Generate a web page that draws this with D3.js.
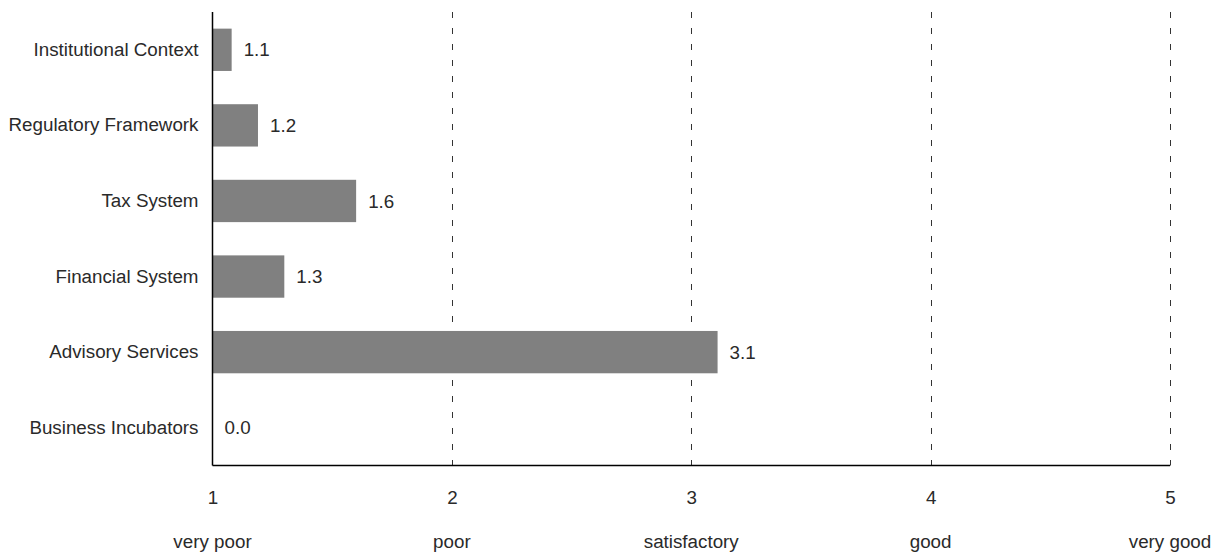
<!DOCTYPE html>
<html><head><meta charset="utf-8">
<script src="https://cdn.jsdelivr.net/npm/d3@7"></script>
<style>body{margin:0;background:#fff;} text{font-family:"Liberation Sans",Arial,Helvetica,sans-serif;}</style>
</head><body>
<svg id="c" width="1219" height="554"></svg>
<script>
const categories = ["Institutional Context","Regulatory Framework","Tax System","Financial System","Advisory Services","Business Incubators"];
const values = [1.08, 1.19, 1.6, 1.3, 3.11, 0.0];
const tickValues = [1, 2, 3, 4, 5];
const tickNames = ["very poor","poor","satisfactory","good","very good"];

const svg = d3.select("#c");
const mLeft = 212.5, mRight = 1170, mTop = 12, mBottom = 465.5;
const fs = 18.8;
const x = d3.scaleLinear().domain([1,5]).range([mLeft,mRight]);
const y = d3.scaleBand().domain(categories).range([mTop,mBottom]).paddingInner(0.44).paddingOuter(0.22);
const txt = "#2a2a2a";

// grid lines
svg.append("g").selectAll("line").data(tickValues.slice(1)).join("line")
  .attr("x1", d=>Math.round(x(d))+0.5).attr("x2", d=>Math.round(x(d))+0.5)
  .attr("y1", mTop).attr("y2", mBottom)
  .attr("stroke","#333").attr("stroke-width",1).attr("stroke-dasharray","6,10");

// bars
svg.append("g").selectAll("rect").data(values).join("rect")
  .attr("x", x(1))
  .attr("y", (d,i)=>y(categories[i]))
  .attr("width", d=>Math.max(0, x(Math.max(d,1))-x(1)))
  .attr("height", y.bandwidth())
  .attr("fill","#808080");

// value labels
svg.append("g").selectAll("text").data(values).join("text")
  .attr("x", d=>x(Math.max(d,1)) + 12)
  .attr("y", (d,i)=>y(categories[i]) + y.bandwidth()/2)
  .attr("dy","0.35em")
  .attr("font-size",fs).attr("fill",txt)
  .text(d=>d3.format(".1f")(d));

// y axis
const yAxis = svg.append("g").attr("transform",`translate(${mLeft},0)`)
  .call(d3.axisLeft(y).tickSize(0).tickPadding(14));
yAxis.select(".domain").attr("stroke","#000").attr("stroke-width",1.5).attr("d",`M0,${mTop}V${mBottom}`);
yAxis.selectAll("text").attr("font-size",fs).attr("fill",txt).attr("font-family","Liberation Sans, Arial, sans-serif");

// x axis
const xAxis = svg.append("g").attr("transform",`translate(0,${mBottom})`)
  .call(d3.axisBottom(x).tickValues(tickValues).tickFormat(d3.format("d")).tickSize(0).tickPadding(25));
xAxis.select(".domain").attr("stroke","#000").attr("stroke-width",1.5).attr("d",`M${mLeft},0H${mRight}`);
xAxis.selectAll("text").attr("font-size",fs).attr("fill",txt).attr("font-family","Liberation Sans, Arial, sans-serif");

// category names under ticks
svg.append("g").selectAll("text").data(tickValues).join("text")
  .attr("x", d=>x(d)).attr("y", 548)
  .attr("text-anchor","middle").attr("font-size",fs).attr("fill",txt)
  .text((d,i)=>tickNames[i]);
</script>
</body></html>
